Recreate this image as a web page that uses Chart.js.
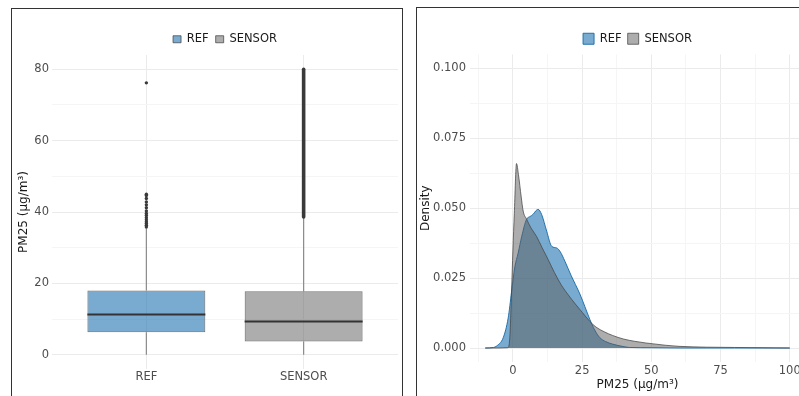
<!DOCTYPE html>
<html><head><meta charset="utf-8">
<script src="https://cdn.jsdelivr.net/npm/chart.js@4.4.1/dist/chart.umd.min.js"></script>
<style>
html,body{margin:0;padding:0;background:#fff;overflow:hidden;width:799px;height:396px;position:relative;}
.panel{position:absolute;border:1px solid #333;box-sizing:border-box;overflow:hidden;background:#fff;}
#p1{left:11px;top:8px;width:392px;height:400px;}
#p2{left:416px;top:7px;width:400px;height:400px;}
canvas{display:block;}
</style></head><body>
<div class="panel" id="p1"><canvas id="c1" width="390" height="388"></canvas></div>
<div class="panel" id="p2"><canvas id="c2" width="398" height="389"></canvas></div>
<script>
// ---------- data: box plot ----------
const boxCategories = ['REF', 'SENSOR'];
const boxWhiskerLow = [0.0, 0.0];
const boxQ1 = [6.3, 3.7];
const boxMedian = [11.3, 9.3];
const boxQ3 = [18.0, 17.8];
const boxWhiskerHigh = [35.4, 38.5];
const refOutliers = [35.8, 36.3, 36.8, 37.3, 37.8, 38.4, 39.0, 39.6, 40.3, 41.2, 42.0, 42.8, 43.8, 44.6, 45.0, 76.2];
const sensorOutlierRun = [38.6, 80.0];
const boxYTicks = [0, 20, 40, 60, 80];

// ---------- data: density ----------
const densitySeries = ['REF', 'SENSOR'];
const refDensityX = [-10, -7, -5.9, -3.5, -1.7, -0.5, 0.7, 1.9, 3.2, 4.9, 6.1, 7.3, 8.2, 9.1, 10.4, 12.2, 14, 15.8, 17, 18.8, 21, 24.2, 26, 27.8, 29.5, 31.4, 33.5, 36, 39, 42, 50, 60, 80, 100];
const refDensityY = [0, 0.0002, 0.0007, 0.0037, 0.0108, 0.020, 0.029, 0.034, 0.040, 0.046, 0.047, 0.0478, 0.049, 0.0496, 0.0477, 0.0418, 0.0364, 0.0358, 0.0346, 0.031, 0.026, 0.0193, 0.0148, 0.0102, 0.0065, 0.0037, 0.0023, 0.0014, 0.0007, 0.0002, 0.0001, 0, 0, 0];
const sensorDensityX = [-10, -5, -2, -1.5, -1, -0.5, 0, 0.5, 1.3, 2, 3, 3.7, 5, 6.5, 8.5, 10.5, 12.7, 15, 17.5, 20, 22.5, 25, 27.8, 30, 33, 36, 40, 44, 48, 55, 60, 70, 80, 90, 100];
const sensorDensityY = [0, 0, 0.0001, 0.0005, 0.006, 0.020, 0.035, 0.048, 0.066, 0.062, 0.054, 0.049, 0.046, 0.043, 0.040, 0.036, 0.0317, 0.027, 0.0225, 0.019, 0.0158, 0.0128, 0.0095, 0.0075, 0.0058, 0.0045, 0.0032, 0.0024, 0.0018, 0.001, 0.0006, 0.0003, 0.0002, 0.0001, 0];
const densityXTicks = [0, 25, 50, 75, 100];
const densityYTicks = [0, 0.025, 0.05, 0.075, 0.1];

// ---------- styles ----------
const STY = {
  refFill: 'rgba(30,115,175,0.6)',
  sensorFill: 'rgba(91,91,91,0.5)',
  refLine: 'rgba(30,110,170,0.95)',
  sensorLine: 'rgba(70,70,70,0.75)',
  boxLine: 'rgba(70,70,70,0.75)',
  whisker: '#8a8a8a',
  median: '#333333',
  outlier: '#3a3a3a',
  gridMajor: '#ebebeb',
  gridMinor: '#f5f5f5',
  tick: '#4d4d4d',
  title: '#1a1a1a'
};
Chart.defaults.font.family = "'DejaVu Sans', sans-serif";
Chart.defaults.animation = false;

const near = (arr, v) => arr.some(t => Math.abs(t - v) < 1e-9);

// ---------- box plot ----------
const boxExtras = {
  id: 'boxExtras',
  beforeDatasetsDraw(chart) {
    const {ctx, scales: {x, y}} = chart;
    ctx.save();
    ctx.strokeStyle = STY.whisker;
    ctx.lineWidth = 1.2;
    boxCategories.forEach((c, i) => {
      const px = x.getPixelForValue(i + 1);
      ctx.beginPath();
      ctx.moveTo(px, y.getPixelForValue(boxWhiskerLow[i]));
      ctx.lineTo(px, y.getPixelForValue(boxQ1[i]));
      ctx.moveTo(px, y.getPixelForValue(boxQ3[i]));
      ctx.lineTo(px, y.getPixelForValue(boxWhiskerHigh[i]));
      ctx.stroke();
    });
    const sx = x.getPixelForValue(2);
    ctx.strokeStyle = STY.outlier;
    ctx.lineWidth = 3.6;
    ctx.lineCap = 'round';
    ctx.beginPath();
    ctx.moveTo(sx, y.getPixelForValue(sensorOutlierRun[0]));
    ctx.lineTo(sx, y.getPixelForValue(sensorOutlierRun[1]));
    ctx.stroke();
    ctx.restore();
  },
  afterDatasetsDraw(chart) {
    const {ctx, scales: {y}} = chart;
    const meta = chart.getDatasetMeta(0);
    ctx.save();
    ctx.strokeStyle = STY.median;
    ctx.lineWidth = 2;
    meta.data.forEach((el, i) => {
      const {x, width} = el.getProps(['x', 'width'], true);
      const py = y.getPixelForValue(boxMedian[i]);
      ctx.beginPath();
      ctx.moveTo(x - width / 2, py);
      ctx.lineTo(x + width / 2, py);
      ctx.stroke();
    });
    ctx.restore();
  }
};

new Chart(document.getElementById('c1'), {
  type: 'bar',
  data: {
    datasets: [
      {
        label: 'box',
        data: boxCategories.map((c, i) => ({x: i + 1, y: [boxQ1[i], boxQ3[i]]})),
        backgroundColor: [STY.refFill, STY.sensorFill],
        borderColor: STY.boxLine,
        borderWidth: 1,
        borderSkipped: false,
        barPercentage: 0.75,
        categoryPercentage: 1,
        order: 2
      },
      {
        type: 'scatter',
        label: 'outliers',
        data: refOutliers.map(v => ({x: 1, y: v})),
        pointRadius: 1.7,
        pointBorderWidth: 0,
        pointBackgroundColor: STY.outlier,
        order: 1
      }
    ]
  },
  options: {
    responsive: false,
    animation: false,
    devicePixelRatio: 1,
    layout: {padding: {top: 17.5, right: 4, left: 0, bottom: 0}},
    plugins: {
      tooltip: {enabled: false},
      legend: {
        position: 'top',
        fullSize: false,
        labels: {
          boxWidth: 8, boxHeight: 7, padding: 7,
          font: {size: 11.5}, color: STY.title,
          generateLabels: () => boxCategories.map((c, i) => ({
            text: c, fillStyle: [STY.refFill, STY.sensorFill][i], strokeStyle: STY.boxLine,
            lineWidth: 1, hidden: false, datasetIndex: 0, fontColor: STY.title
          }))
        }
      }
    },
    scales: {
      x: {
        type: 'linear', min: 0.4, max: 2.6, offset: false,
        border: {display: false},
        grid: {color: STY.gridMajor, drawTicks: false, offset: false},
        ticks: {stepSize: 1, includeBounds: false, autoSkip: false, padding: 1,
          color: STY.tick, font: {size: 11.5},
          callback: v => boxCategories[v - 1] || ''},
        afterFit: s => { s.height = 28; }
      },
      y: {
        type: 'linear', min: -4, max: 84,
        border: {display: false},
        grid: {drawTicks: false, color: c => (c.tick && near(boxYTicks, c.tick.value)) ? STY.gridMajor : STY.gridMinor},
        ticks: {stepSize: 10, includeBounds: false, autoSkip: false, padding: 3,
          color: STY.tick, font: {size: 11.5},
          callback: v => near(boxYTicks, v) ? String(v) : ''},
        title: {display: true, text: 'PM25 (µg/m³)', color: STY.title, font: {size: 12}, padding: {top: 5, bottom: 0}},
        afterFit: s => { s.width = 40; }
      }
    }
  },
  plugins: [boxExtras]
});

// ---------- density ----------
new Chart(document.getElementById('c2'), {
  type: 'line',
  data: {
    datasets: [
      {
        label: densitySeries[0],
        data: refDensityX.map((x, i) => ({x, y: refDensityY[i]})),
        fill: 'origin', backgroundColor: STY.refFill, borderColor: STY.refLine, borderWidth: 1,
        pointRadius: 0, cubicInterpolationMode: 'monotone', order: 2
      },
      {
        label: densitySeries[1],
        data: sensorDensityX.map((x, i) => ({x, y: sensorDensityY[i]})),
        fill: 'origin', backgroundColor: STY.sensorFill, borderColor: STY.sensorLine, borderWidth: 1,
        pointRadius: 0, cubicInterpolationMode: 'monotone', order: 1
      }
    ]
  },
  options: {
    responsive: false,
    animation: false,
    devicePixelRatio: 1,
    layout: {padding: {top: 19, right: 10, left: 0, bottom: 0}},
    plugins: {
      tooltip: {enabled: false},
      legend: {
        position: 'top',
        fullSize: false,
        labels: {boxWidth: 11, boxHeight: 11, padding: 6, font: {size: 11.5}, color: STY.title,
          sort: (a, b) => a.datasetIndex - b.datasetIndex}
      }
    },
    scales: {
      x: {
        type: 'linear', min: -15.5, max: 105.5,
        border: {display: false},
        grid: {drawTicks: false, color: c => (c.tick && near(densityXTicks, c.tick.value)) ? STY.gridMajor : STY.gridMinor},
        ticks: {stepSize: 12.5, includeBounds: false, autoSkip: false, maxRotation: 0, padding: 2,
          color: STY.tick, font: {size: 11.5},
          callback: v => near(densityXTicks, v) ? String(v) : ''},
        title: {display: true, text: 'PM25 (µg/m³)', color: STY.title, font: {size: 12}, padding: {top: 0, bottom: 4.8}},
        afterFit: s => { s.height = 35; }
      },
      y: {
        type: 'linear', min: -0.005, max: 0.105,
        border: {display: false},
        grid: {drawTicks: false, color: c => (c.tick && near(densityYTicks, c.tick.value)) ? STY.gridMajor : STY.gridMinor},
        ticks: {stepSize: 0.0125, includeBounds: false, autoSkip: false, padding: 4,
          color: STY.tick, font: {size: 11.5},
          callback: v => near(densityYTicks, v) ? v.toFixed(3) : ''},
        title: {display: true, text: 'Density', color: STY.title, font: {size: 12}, padding: {top: 2, bottom: 0}},
        afterFit: s => { s.width = 53; }
      }
    }
  }
});
</script>
</body></html>
